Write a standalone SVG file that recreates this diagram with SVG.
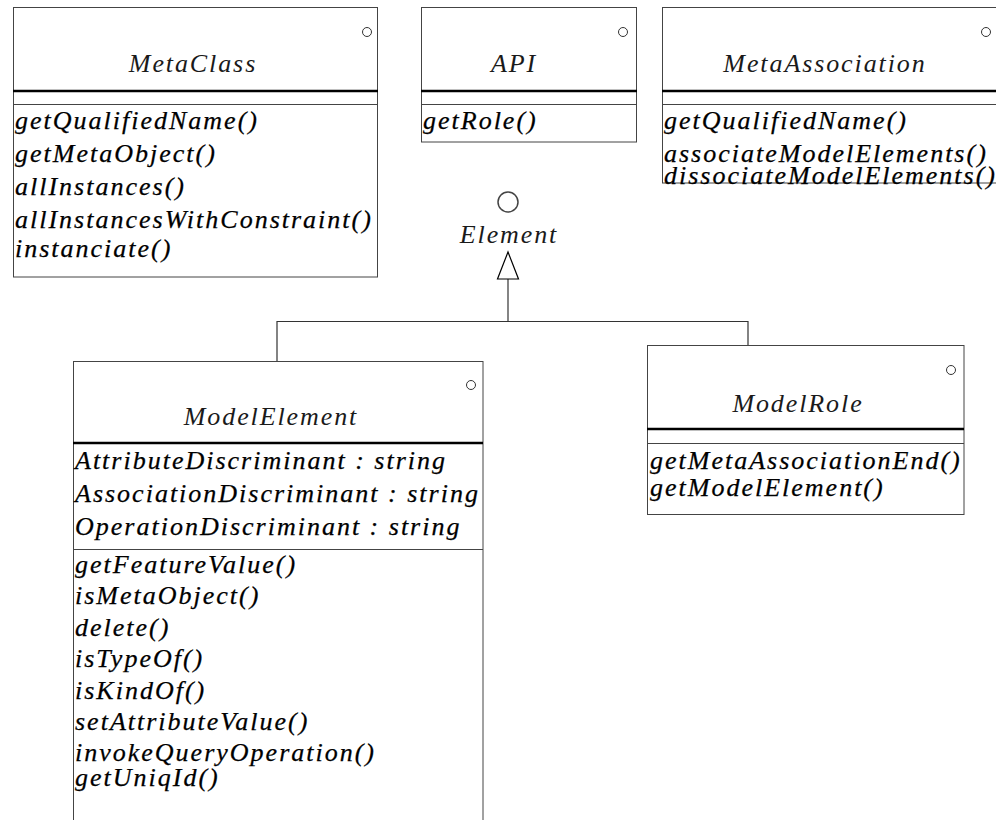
<svg xmlns="http://www.w3.org/2000/svg" width="996" height="820" viewBox="0 0 996 820">
<style>
.box{fill:#fff;stroke:#444;stroke-width:1}
.thick{stroke:#000;stroke-width:2.5}
.thin{stroke:#444;stroke-width:1}
.dot{fill:#fff;stroke:#333;stroke-width:1}
.title{font-family:"Liberation Serif","Times New Roman",serif;font-style:italic;font-size:26px;letter-spacing:1.9px;fill:#1a1a1a;text-anchor:middle}
.op{font-family:"Liberation Serif","Times New Roman",serif;font-style:italic;font-size:26px;letter-spacing:2px;fill:#000;stroke:#000;stroke-width:0.25}
.conn{stroke:#333;stroke-width:1.2;fill:none}
</style>
<g id="connectors">
<path class="conn" d="M277 362 V321.5 H748 V346"/>
<path class="conn" d="M508 321.5 V279"/>
<polygon points="508,252 497.5,279 518.5,279" fill="#fff" stroke="#000" stroke-width="1.2"/>
</g>
<g id="Element">
<circle cx="508" cy="202" r="10" fill="#fff" stroke="#444" stroke-width="1.5"/>
<text class="title" x="509" y="243">Element</text>
</g>
<g id="MetaClass">
<rect class="box" x="13.5" y="7.5" width="364" height="269.5"/>
<circle class="dot" cx="367" cy="32" r="4.5"/>
<text class="title" x="193" y="72">MetaClass</text>
<line class="thick" x1="13" y1="91" x2="378" y2="91"/>
<line class="thin" x1="13" y1="104.5" x2="378" y2="104.5"/>
<text class="op" x="15" y="129">getQualifiedName()</text>
<text class="op" x="15" y="162">getMetaObject()</text>
<text class="op" x="15" y="195">allInstances()</text>
<text class="op" x="15" y="228">allInstancesWithConstraint()</text>
<text class="op" x="15" y="257">instanciate()</text>
</g>
<g id="API">
<rect class="box" x="421.5" y="7.5" width="215" height="134.5"/>
<circle class="dot" cx="623" cy="32" r="4.5"/>
<text class="title" x="514" y="72">API</text>
<line class="thick" x1="421" y1="91" x2="637" y2="91"/>
<line class="thin" x1="421" y1="104.5" x2="637" y2="104.5"/>
<text class="op" x="423" y="129">getRole()</text>
</g>
<g id="MetaAssociation">
<rect class="box" x="662.5" y="7.5" width="340" height="175.5"/>
<circle class="dot" cx="986" cy="32" r="4.5"/>
<text class="title" x="825" y="72">MetaAssociation</text>
<line class="thick" x1="662" y1="91" x2="1000" y2="91"/>
<line class="thin" x1="662" y1="104.5" x2="1000" y2="104.5"/>
<text class="op" x="664" y="129">getQualifiedName()</text>
<text class="op" x="664" y="162">associateModelElements()</text>
<text class="op" x="664" y="184">dissociateModelElements()</text>
</g>
<g id="ModelElement">
<rect class="box" x="73.5" y="361.5" width="409.5" height="500"/>
<circle class="dot" cx="471" cy="385" r="4.5"/>
<text class="title" x="271" y="425">ModelElement</text>
<line class="thick" x1="73" y1="443" x2="483" y2="443"/>
<text class="op" x="75" y="469">AttributeDiscriminant : string</text>
<text class="op" x="75" y="502">AssociationDiscriminant : string</text>
<text class="op" x="75" y="535">OperationDiscriminant : string</text>
<line class="thin" x1="73" y1="549.5" x2="483" y2="549.5"/>
<text class="op" x="75" y="573">getFeatureValue()</text>
<text class="op" x="75" y="604">isMetaObject()</text>
<text class="op" x="75" y="636">delete()</text>
<text class="op" x="75" y="667">isTypeOf()</text>
<text class="op" x="75" y="699">isKindOf()</text>
<text class="op" x="75" y="730">setAttributeValue()</text>
<text class="op" x="75" y="761">invokeQueryOperation()</text>
<text class="op" x="75" y="786">getUniqId()</text>
</g>
<g id="ModelRole">
<rect class="box" x="647.5" y="345.5" width="316.5" height="169"/>
<circle class="dot" cx="951" cy="370" r="4.5"/>
<text class="title" x="798" y="412">ModelRole</text>
<line class="thick" x1="647" y1="429" x2="964" y2="429"/>
<line class="thin" x1="647" y1="443.5" x2="964" y2="443.5"/>
<text class="op" x="650" y="469">getMetaAssociationEnd()</text>
<text class="op" x="650" y="496">getModelElement()</text>
</g>
</svg>
